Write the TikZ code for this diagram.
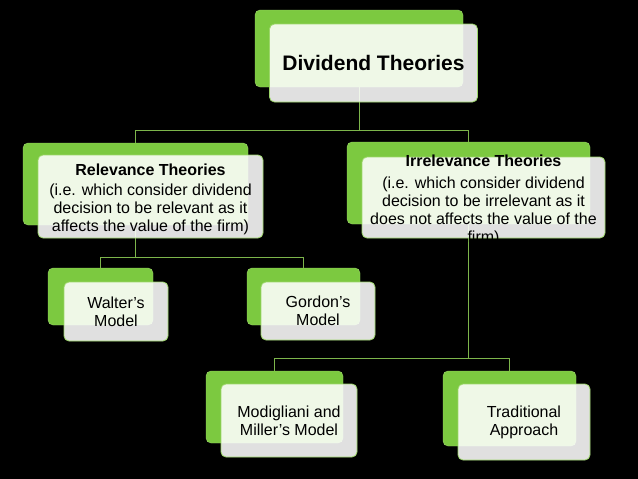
\documentclass[tikz,border=0pt]{standalone}
\usepackage{fontspec}
\setmainfont{Liberation Sans}
\usetikzlibrary{positioning}
\definecolor{leafc}{HTML}{7CC940}
\definecolor{rimc}{HTML}{9CD66A}
\definecolor{linkc}{HTML}{7DB54B}
\tikzset{
  back/.style={draw=rimc,thin,fill=leafc,rounded corners=5pt,inner sep=0pt},
  front/.style={draw=rimc,thick,fill=white,fill opacity=0.88,rounded corners=5pt,inner sep=0pt},
  txt/.style={align=center,inner sep=0pt,text=black,font=\fontsize{16}{18}\selectfont},
  link/.style={linkc,line width=1pt}
}

\begin{document}
\begin{tikzpicture}[x=1pt,y=-1pt]
\fill[black] (0,0) rectangle (638,479);
\useasboundingbox (0,0) rectangle (638,479);
\coordinate (barA) at (0,130);
\coordinate (barB) at (0,257);
\coordinate (barC) at (0,358);
% green boxes behind
\foreach \n/\x/\y/\w/\h in {topB/359/48.5/208/77,relB/135.5/184/225/82,irrB/468.5/183/243/82,walB/100.5/296.5/105/57,gorB/303.5/296.5/113/57,modB/274.5/407/137/72,traB/509.5/408.5/133/75}
  \node[back,minimum width=\w pt,minimum height=\h pt] (\n) at (\x,\y) {};
% connectors
\draw[link] (topB.south) -- (topB.south |- barA) -| (relB.north);
\draw[link] (topB.south |- barA) -| (irrB.north);
\draw[link] (relB.south) -- (relB.south |- barB) -| (walB.north);
\draw[link] (relB.south |- barB) -| (gorB.north);
\draw[link] (irrB.south) -- (irrB.south |- barC) -| (modB.north);
\draw[link] (irrB.south |- barC) -| (traB.north);
% light boxes in front
\foreach \n/\x/\y/\w/\h in {topF/373.5/63/208/78,relF/150.5/196.5/225/83,irrF/483.5/197.5/243/81,walF/116/311.5/104/59,gorF/318/311/114/58,modF/289/420.5/136/73,traF/524/422/132/76}
  \node[front,minimum width=\w pt,minimum height=\h pt] (\n) at (\x,\y) {};
\node[txt,font=\bfseries\fontsize{21}{25}\selectfont] (topT) at (topF) {Dividend Theories};
\node[txt,yshift=-3pt] (relT) at (relF) {\textbf{Relevance Theories}\\[2pt](i.e. which consider dividend\\decision to be relevant as it\\affects the value of the firm)};
\node[txt,yshift=-2.5pt] (irrT) at (irrF) {\textbf{Irrelevance Theories}\\[4pt](i.e. which consider dividend\\decision to be irrelevant as it\\does not affects the value of the\\firm)};
\node[txt] (walT) at (walF) {Walter’s\\Model};
\node[txt] (gorT) at (gorF) {Gordon’s\\Model};
\node[txt] (modT) at (modF) {Modigliani and\\Miller’s Model};
\node[txt] (traT) at (traF) {Traditional\\Approach};
\end{tikzpicture}
\end{document}
